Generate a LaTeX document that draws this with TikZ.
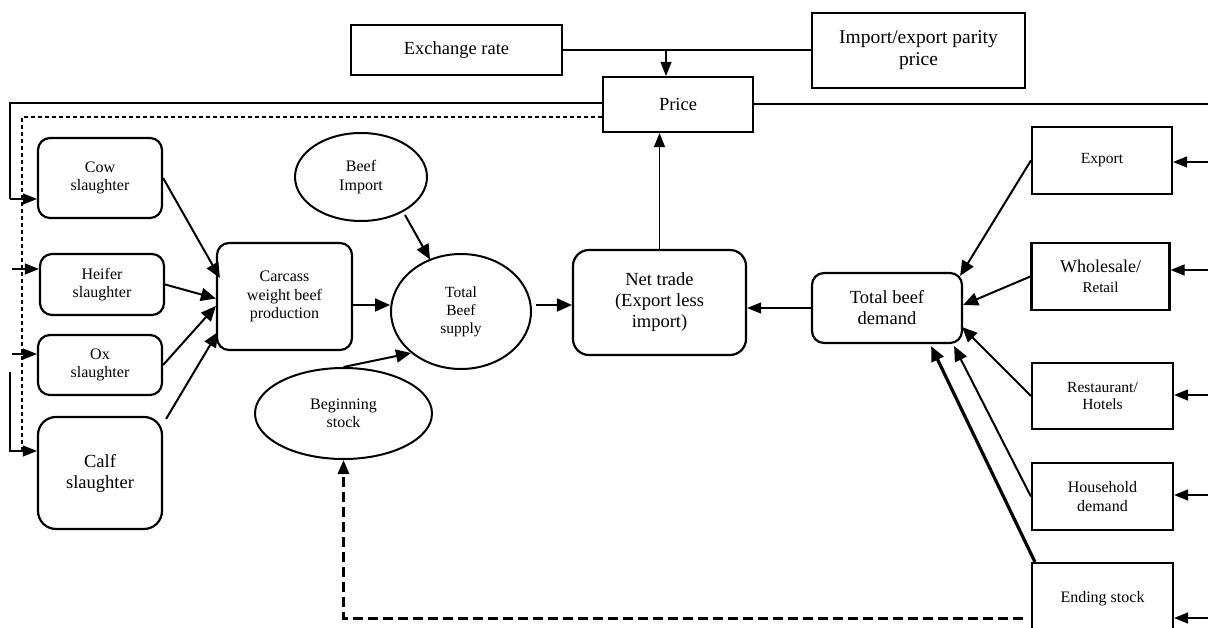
\documentclass[tikz,border=0pt]{standalone}
\usepackage{fontspec}
\setmainfont{Liberation Serif}
\usetikzlibrary{arrows.meta,shapes.geometric,calc}
\newcommand{\szBig}{\fontsize{18.5}{21}\selectfont}
\newcommand{\szMid}{\fontsize{16}{18.4}\selectfont}
\newcommand{\szSm}{\fontsize{15.5}{17.8}\selectfont}
\begin{document}
\begin{tikzpicture}[x=1pt,y=-1pt,
  every node/.style={inner sep=0pt, align=center},
  box/.style={draw, line width=2.2pt},
  rbox/.style={draw, line width=2.2pt, rounded corners=12pt},
  ell/.style={draw, ellipse, line width=2pt},
  arr/.style={line width=2pt, -{Triangle[length=15pt,width=13pt]}},
  tline/.style={line width=1.2pt},
  tarr/.style={line width=1.2pt, -{Triangle[length=14pt,width=11pt]}},
]
\useasboundingbox (0,0) rectangle (1208,628);

% top row
\node[box, font=\szBig, minimum width=211pt, minimum height=50pt] (exch) at (456.5,50) {Exchange rate};
\node[box, font=\fontsize{19.5}{22}\selectfont, minimum width=213pt, minimum height=75pt] (parity) at (918.5,50.5) {Import/export parity\\price};
\node[box, font=\szBig, minimum width=150pt, minimum height=55pt] (price) at (678,104.5) {Price};

% left slaughter boxes
\node[rbox, font=\szMid, minimum width=124pt, minimum height=80pt] (cow) at (100,178) {Cow\\slaughter};
\node[rbox, font=\szMid, minimum width=124pt, minimum height=61pt] (heifer) at (102,284.5) {Heifer\\slaughter};
\node[rbox, font=\szMid, minimum width=124pt, minimum height=60pt] (ox) at (100,365) {Ox\\slaughter};
\node[rbox, font=\szBig, rounded corners=18pt, minimum width=124pt, minimum height=112pt] (calf) at (100,473) {Calf\\slaughter};

% middle
\node[rbox, font=\szMid, minimum width=135pt, minimum height=107pt] (carc) at (284.5,296.5) {Carcass\\weight beef\\production};
\node[ell, font=\szMid, minimum width=132pt, minimum height=88pt] (bimp) at (361,177) {Beef\\Import};
\node[ell, font=\szSm, minimum width=140pt, minimum height=115pt] (total) at (461,311.5) {Total\\Beef\\supply};
\node[ell, font=\szMid, minimum width=177pt, minimum height=91pt] (beg) at (343.5,413.5) {Beginning\\stock};
\node[rbox, font=\szBig, rounded corners=16pt, minimum width=173pt, minimum height=105pt] (net) at (659.5,302.5) {Net trade\\(Export less\\import)};
\node[rbox, font=\szBig, minimum width=150pt, minimum height=70pt] (tbd) at (887,308) {Total beef\\demand};

% right boxes
\node[box, font=\szSm, minimum width=140pt, minimum height=67pt] (export) at (1102,160.5) {Export};
\node[box, font=\fontsize{18}{20}\selectfont, minimum width=138pt, minimum height=67pt] (whole) at (1100.5,276.5) {Wholesale/\\{\fontsize{15}{18}\selectfont Retail}};
\node[box, font=\szSm, minimum width=141pt, minimum height=66pt] (rest) at (1102.5,396) {Restaurant/\\Hotels};
\node[box, font=\szMid, minimum width=141pt, minimum height=67pt] (house) at (1102.5,496.5) {Household\\demand};
\node[box, font=\szMid, minimum width=141pt, minimum height=72pt] (ending) at (1102.5,599) {Ending stock};

% top connectors
\coordinate (jx) at (666,50);
\draw[tline] (exch.east) -- (exch.east -| parity.west);
\draw[tarr] (jx) -- (jx |- price.north);
\draw[tarr] (net.north) -- (net.north |- price.south);

% price feedback lines (left)
\coordinate (lt) at (10,103);
\coordinate (lc) at (10,199);
\coordinate (lh) at (12,269);
\coordinate (lo) at (12,354);
\coordinate (lk1) at (10,372);
\coordinate (lk) at (10,451);
\draw[tline] (price.west |- lt) -- (lt) -- (lc);
\draw[tarr] (lc) -- (cow.west |- lc);
\draw[tarr] (lh) -- (heifer.west |- lh);
\draw[tarr] (lo) -- (ox.west |- lo);
\draw[tarr] (lk1) -- (lk) -- (calf.west |- lk);
\coordinate (dt) at (22,117);
\coordinate (db) at (22,450);
\draw[tline, dash pattern=on 4pt off 3pt] (price.west |- dt) -- (dt) -- (db);

% price line (right) and right arrows
\coordinate (rt) at (1215,104);
\draw[tline] (price.east |- rt) -- (rt);
\coordinate (r1) at (1215,162);
\coordinate (r2) at (1215,270);
\coordinate (r3) at (1215,395);
\coordinate (r4) at (1215,495);
\coordinate (r5) at (1215,618);
\draw[tarr] (r1) -- (r1 -| export.east);
\draw[tarr] (r2) -- (r2 -| whole.east);
\draw[tarr] (r3) -- (r3 -| rest.east);
\draw[tarr] (r4) -- (r4 -| house.east);
\draw[tarr] (r5) -- (r5 -| ending.east);

% slaughter -> carcass
\draw[arr] (cow.east) -- ($(carc.west)+(4,-18.5)$);
\draw[arr] (heifer.east) -- ($(carc.west)+(0,2)$);
\draw[arr] (ox.east) -- ($(carc.west)+(0,9.5)$);
\draw[arr] ($(calf.north east)+(3,3)$) -- ($(carc.west)+(2,35.5)$);

% supply side
\draw[arr] ($(carc.east)+(0,8.5)$) -- ($(total.west)+(0,-6.5)$);
\draw[arr] ($(bimp.center)+(44,38)$) -- ($(total.center)+(-31,-52)$);
\draw[arr] (beg.north) -- ($(total.center)+(-50,41.5)$);
\coordinate (tn) at ($(total.east)+(4,-6.5)$);
\draw[arr] (tn) -- (tn -| net.west);
\draw[tarr] (tbd.west) -- (tbd.west -| net.east);

% demand side
\draw[arr] (export.west) -- ($(tbd.north east)+(-3,4)$);
\draw[arr] (whole.west) -- ($(tbd.east)+(0,-3)$);
\draw[arr] (rest.west) -- ($(tbd.east)+(-1,19)$);
\draw[arr] (house.west) -- ($(tbd.south east)+(-9,2)$);
\draw[line width=3.2pt, -{Triangle[length=15pt,width=13pt]}] ($(ending.north west)+(4,0)$) -- ($(tbd.south east)+(-32,2)$);

% ending stock -> beginning stock (dashed)
\coordinate (es) at ($(ending.west)+(-8,19)$);
\draw[line width=3pt, dash pattern=on 10pt off 5pt, -{Triangle[length=14pt,width=11pt]}] (es) -- (es -| beg.south) -- (beg.south);
\end{tikzpicture}
\end{document}
